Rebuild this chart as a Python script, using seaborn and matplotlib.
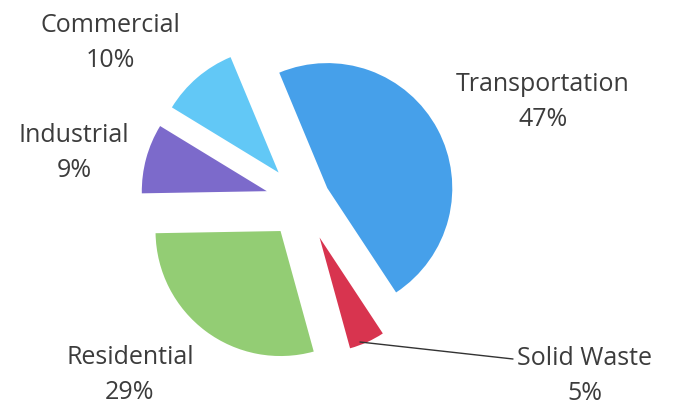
import matplotlib
matplotlib.use("Agg")
import matplotlib.pyplot as plt
import seaborn as sns

sns.set_theme(style="white")
plt.rcParams['font.family'] = ['Open Sans', 'DejaVu Sans']

categories = ["Transportation", "Solid Waste", "Residential", "Industrial", "Commercial"]
values = [47, 5, 29, 9, 10]
colors = ["#46a0ea", "#d8344f", "#93cd74", "#7c6acb", "#62c8f6"]
explode = [0.22, 0.32, 0.30, 0.30, 0.30]

W, H = 673, 406
R = 125.0  # pixels per radius unit
cx, cy = 303, 202  # pie centre in pixels (from top-left)

fig = plt.figure(figsize=(W / 100, H / 100), dpi=100)
ax = fig.add_axes([0, 0, 1, 1])
wedges, _ = ax.pie(values, colors=colors, explode=explode, startangle=112.6,
                   counterclock=False, radius=1.0, center=(0, 0),
                   wedgeprops=dict(linewidth=0))
wedges[1].set_radius(0.92)
ax.set_xlim(-cx / R, (W - cx) / R)
ax.set_ylim(-(H - cy) / R, cy / R)
ax.set_aspect('equal')
ax.axis('off')

def px(x, y):
    return ((x - cx) / R, (cy - y) / R)

label_pos = {
    "Commercial": (110, 43),
    "Transportation": (543, 102),
    "Industrial": (74, 153),
    "Residential": (130, 375),
    "Solid Waste": (585, 376),
}
for cat, v in zip(categories, values):
    x, y = px(*label_pos[cat])
    ax.text(x, y, f"{cat}\n{v}%", ha='center', va='center', fontsize=18,
            color='#3c3c3c', linespacing=1.5)

# leader line for Solid Waste
x0, y0 = px(360, 343)
x1, y1 = px(513, 360)
ax.plot([x0, x1], [y0, y1], color='#333333', lw=1.0)

fig.savefig("out.png", dpi=100, facecolor='white')
